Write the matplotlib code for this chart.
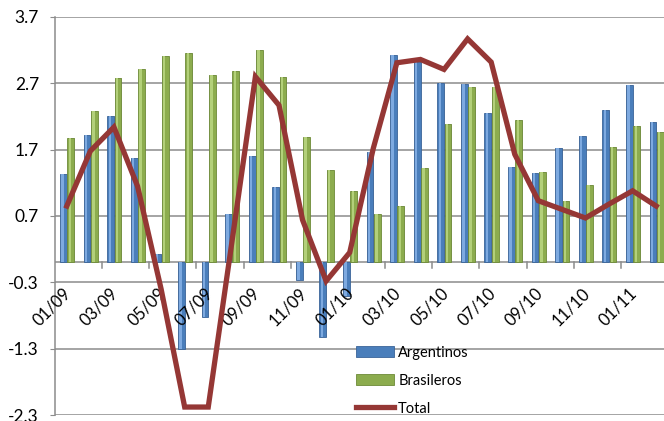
import numpy as np
import matplotlib
matplotlib.use("Agg")
import matplotlib.pyplot as plt

# monthly series, 01/09 .. 02/11
meses = ["01/09", "02/09", "03/09", "04/09", "05/09", "06/09", "07/09", "08/09",
         "09/09", "10/09", "11/09", "12/09", "01/10", "02/10", "03/10", "04/10",
         "05/10", "06/10", "07/10", "08/10", "09/10", "10/10", "11/10", "12/10",
         "01/11", "02/11"]
argentinos = [1.34, 1.92, 2.20, 1.57, 0.13, -1.30, -0.82, 0.73, 1.61, 1.13, -0.27, -1.12,
              -0.50, 1.66, 3.13, 3.02, 2.71, 2.69, 2.26, 1.44, 1.35, 1.72, 1.90, 2.30,
              2.67, 2.11]
brasileros = [1.87, 2.28, 2.78, 2.91, 3.11, 3.16, 2.82, 2.89, 3.21, 2.80, 1.89, 1.40,
              1.07, 0.73, 0.85, 1.42, 2.08, 2.65, 2.64, 2.14, 1.37, 0.92, 1.16, 1.74,
              2.05, 1.96]
total = [0.85, 1.68, 2.04, 1.15, -0.40, -2.18, -2.18, 0.30, 2.80, 2.37, 0.64, -0.28,
         0.15, 1.72, 3.01, 3.06, 2.91, 3.37, 3.02, 1.63, 0.93, 0.80, 0.67, 0.88,
         1.08, 0.85]
yticks = [-2.3, -1.3, -0.3, 0.7, 1.7, 2.7, 3.7]

plt.rcParams["font.family"] = ["Lato", "DejaVu Sans"]

fig = plt.figure(figsize=(6.64, 4.21), dpi=100)
ax = fig.add_axes([55 / 664, 6 / 421, 609 / 664, 398 / 421])

x = np.arange(len(meses))
w = 0.29

# small grey shadow behind the bars (3d look)
ax.bar(x - 0.12, argentinos, w, color="#9a9a9a", alpha=0.5, zorder=2)
ax.bar(x + 0.19, brasileros, w, color="#9a9a9a", alpha=0.5, zorder=2)

b1 = ax.bar(x - 0.14, argentinos, w, color="#4a7ebb", edgecolor="#3a6499", lw=0.6,
            zorder=3, label="Argentinos")
ax.bar(x - 0.18, argentinos, w * 0.35, color="#7eaae0", lw=0, zorder=3)
b2 = ax.bar(x + 0.17, brasileros, w, color="#8cac4e", edgecolor="#6d8a38", lw=0.6,
            zorder=3, label="Brasileros")
ax.bar(x + 0.13, brasileros, w * 0.35, color="#b3d07a", lw=0, zorder=3)

l1, = ax.plot(x, total, color="#953735", lw=3.8, solid_joinstyle="miter", zorder=4,
              label="Total")

ax.set_ylim(-2.3, 3.7)
ax.set_xlim(-0.5, 25.33)
ax.set_yticks(yticks)
ax.set_yticklabels([f"{v:.1f}" for v in yticks], fontsize=12.5)
ax.yaxis.grid(True, color="#8c8c8c", lw=1.1, zorder=0)
ax.set_axisbelow(True)
ax.tick_params(axis="y", length=3.5, color="#8c8c8c", pad=8)

for s in ["top", "right", "bottom"]:
    ax.spines[s].set_visible(False)
ax.spines["left"].set_color("#8c8c8c")
ax.spines["left"].set_linewidth(1.1)

# category axis at zero
ax.axhline(0, color="#8c8c8c", lw=1.1, zorder=1)
ax.set_xticks([])
for i in range(2, len(meses), 2):
    ax.plot([i - 0.5, i - 0.5], [0, -0.08], color="#8c8c8c", lw=1.1, zorder=1)
# labels sit above the bars but under the Total line
for i in range(0, len(meses), 2):
    ax.text(i - 0.62, -0.67, meses[i], rotation=45, ha="center", va="center",
            rotation_mode="anchor", fontsize=12, zorder=3.5)

ax.legend(handles=[b1, b2, l1], loc="upper left",
          bbox_to_anchor=(350 / 664, 1 - 340 / 421),
          bbox_transform=fig.transFigure, frameon=False, fontsize=10.5,
          handlelength=2.6, handleheight=0.8, labelspacing=0.95, handletextpad=0.3,
          borderaxespad=0)

fig.savefig("out.png", dpi=100)
